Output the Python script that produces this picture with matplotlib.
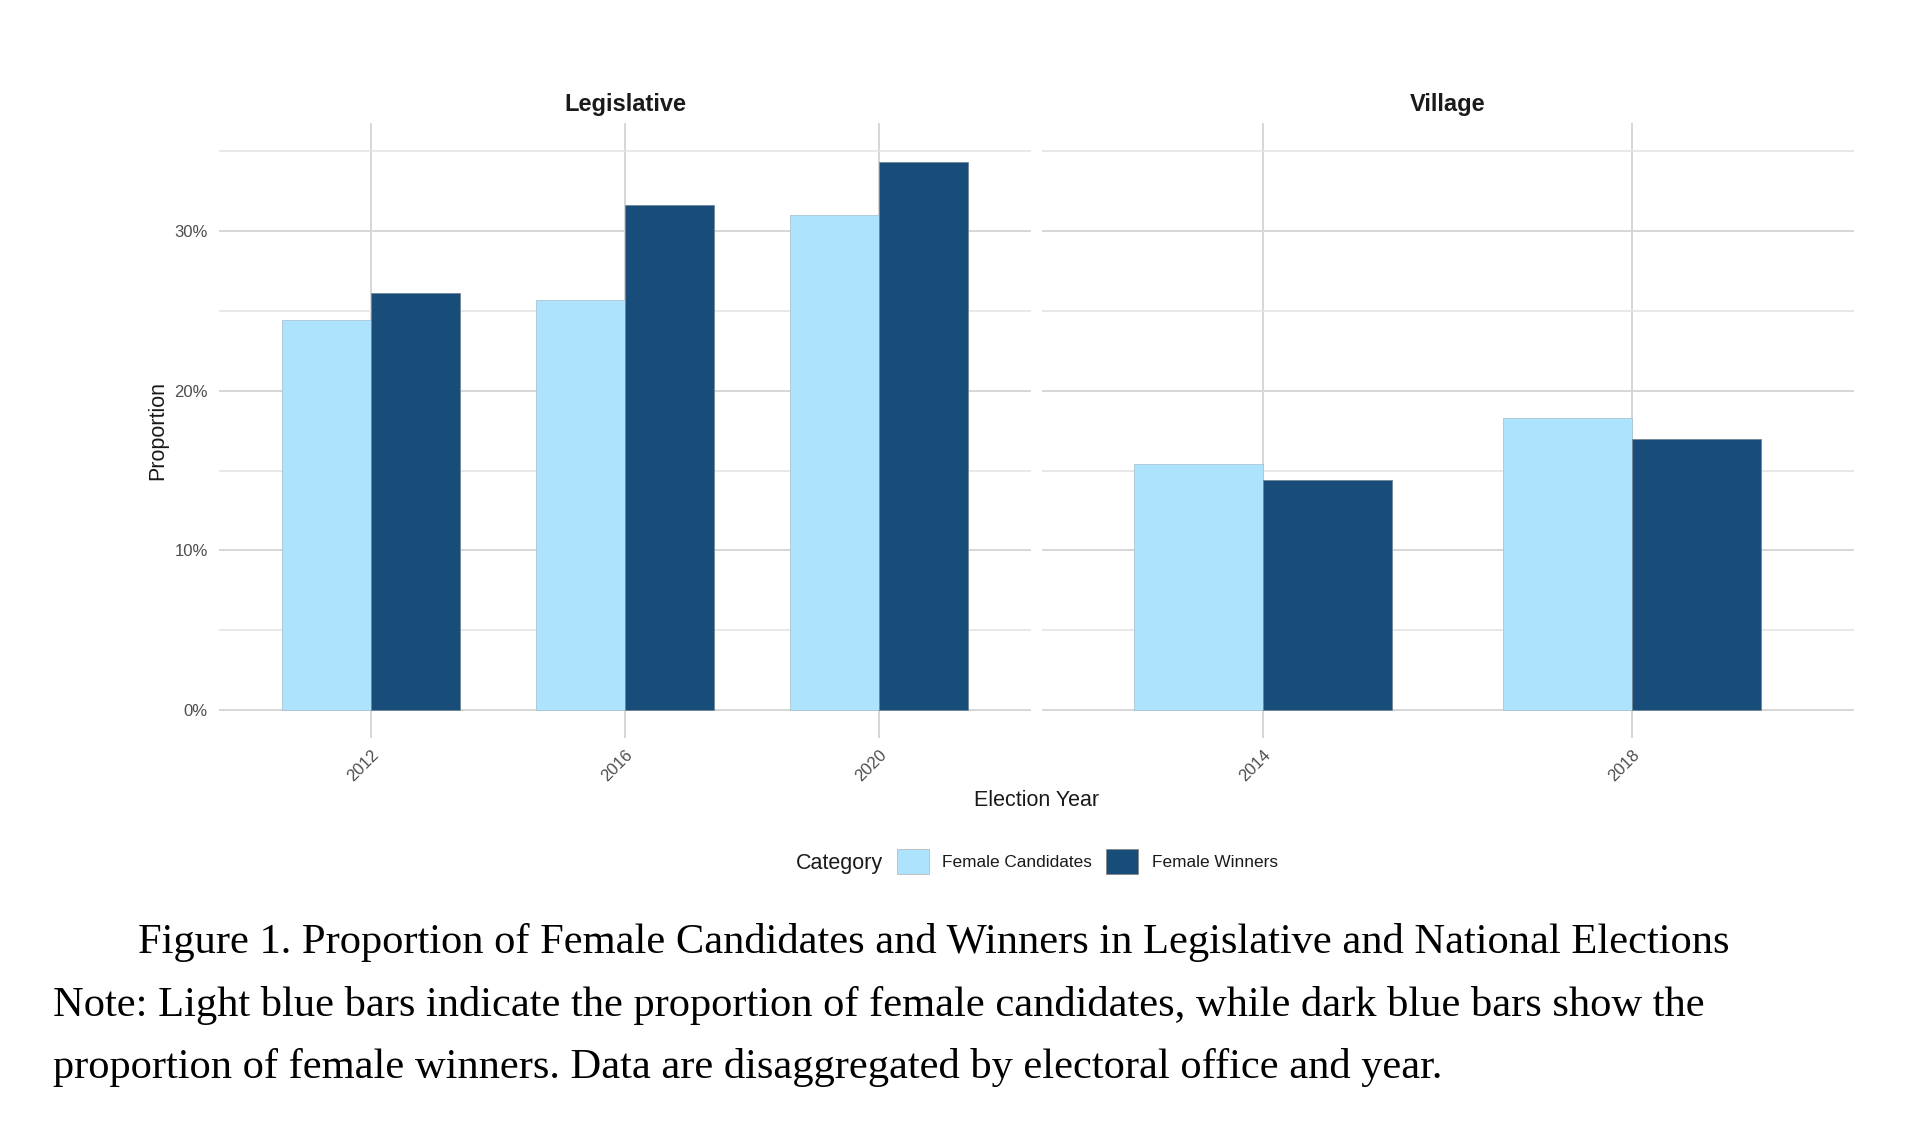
import matplotlib
matplotlib.use("Agg")
import matplotlib.pyplot as plt
import numpy as np
from matplotlib.patches import Patch

plt.rcParams['font.family'] = ['Liberation Sans', 'DejaVu Sans']

# ---- data ----
panels = ['Legislative', 'Village']
years_leg = ['2012', '2016', '2020']
cand_leg = [0.244, 0.257, 0.310]
win_leg = [0.261, 0.316, 0.343]
years_vil = ['2014', '2018']
cand_vil = [0.154, 0.183]
win_vil = [0.144, 0.170]
series = ['Female Candidates', 'Female Winners']
colors = ['#ADE3FC', '#184D7A']
y_major = [0.0, 0.1, 0.2, 0.3]
y_minor = [0.05, 0.15, 0.25, 0.35]
y_labels = ['0%', '10%', '20%', '30%']

W, H = 1912, 1142
fig = plt.figure(figsize=(W / 100, H / 100), dpi=100)
fig.patch.set_facecolor('white')

def fx(px):
    return px / W

def fy(py):
    return 1 - py / H

left1, right1 = 219, 1031
left2 = 1041.7
pw = right1 - left1
top, bottom = 123, 737.7

ax1 = fig.add_axes([fx(left1), fy(bottom), pw / W, (bottom - top) / H])
ax2 = fig.add_axes([fx(left2), fy(bottom), pw / W, (bottom - top) / H])

grid_col = '#d6d6d6'
tick_col = '#4d4d4d'
bw = 0.35

for ax, years, cand, win in [(ax1, years_leg, cand_leg, win_leg),
                             (ax2, years_vil, cand_vil, win_vil)]:
    x = np.arange(1, len(years) + 1)
    ax.bar(x - bw / 2, cand, width=bw, color=colors[0], edgecolor='#a9c4d2',
           linewidth=0.6, zorder=3)
    ax.bar(x + bw / 2, win, width=bw, color=colors[1], edgecolor='#6f8796',
           linewidth=0.6, zorder=3)
    ax.set_xlim(0.4, len(years) + 0.6)
    ax.set_ylim(-0.0173, 0.3676)
    ax.set_xticks(x)
    ax.set_xticklabels(years, rotation=45, ha='right', rotation_mode='anchor',
                       color=tick_col, fontsize=12)
    ax.set_yticks(y_major)
    ax.set_yticks(y_minor, minor=True)
    ax.set_yticklabels(y_labels, color=tick_col, fontsize=12)
    ax.tick_params(axis='both', which='both', length=0)
    ax.tick_params(axis='x', pad=7)
    ax.tick_params(axis='y', pad=8)
    ax.grid(True, which='major', axis='both', color=grid_col, linewidth=1.4, zorder=0)
    ax.grid(True, which='minor', axis='y', color='#e4e4e4', linewidth=1.2, zorder=0)
    ax.set_axisbelow(True)
    for s in ax.spines.values():
        s.set_visible(False)
    ax.set_facecolor('white')

ax2.tick_params(axis='y', labelleft=False)

# strip titles
fig.text(fx((left1 + right1) / 2), fy(104), panels[0], ha='center', va='center',
         fontsize=17, fontweight='bold', color='#1a1a1a')
fig.text(fx(left2 + pw / 2), fy(104), panels[1], ha='center', va='center',
         fontsize=17, fontweight='bold', color='#1a1a1a')

# axis titles
fig.text(fx(1037), fy(800), 'Election Year', ha='center', va='center',
         fontsize=15.5, color='#1a1a1a')
fig.text(fx(158), fy(430), 'Proportion', ha='center', va='center', rotation=90,
         fontsize=15.5, color='#1a1a1a')

# legend
fig.text(fx(796), fy(863), 'Category', ha='left', va='center', fontsize=15.5,
         color='#1a1a1a')
handles = [Patch(facecolor=colors[0], edgecolor='#bbbbbb', linewidth=0.6, label=series[0]),
           Patch(facecolor=colors[1], edgecolor='#888888', linewidth=0.6, label=series[1])]
fig.legend(handles=handles, loc='center left', bbox_to_anchor=(fx(896.7), fy(861.5)),
           ncol=2, frameon=False, fontsize=12.4, handlelength=1.85, handleheight=1.85,
           handletextpad=0.8, columnspacing=0.8, borderpad=0, borderaxespad=0,
           labelcolor='#1a1a1a')

# caption
cap_kw = dict(fontsize=30.6, family=['Liberation Serif', 'DejaVu Serif'],
              color='black', va='baseline', ha='left')
fig.text(fx(138.3), fy(953),
         'Figure 1. Proportion of Female Candidates and Winners in Legislative and National Elections',
         **cap_kw)
fig.text(fx(52.7), fy(1016),
         'Note: Light blue bars indicate the proportion of female candidates, while dark blue bars show the',
         **cap_kw)
fig.text(fx(52.7), fy(1078),
         'proportion of female winners. Data are disaggregated by electoral office and year.',
         **cap_kw)

fig.savefig('out.png', dpi=100, facecolor='white')
